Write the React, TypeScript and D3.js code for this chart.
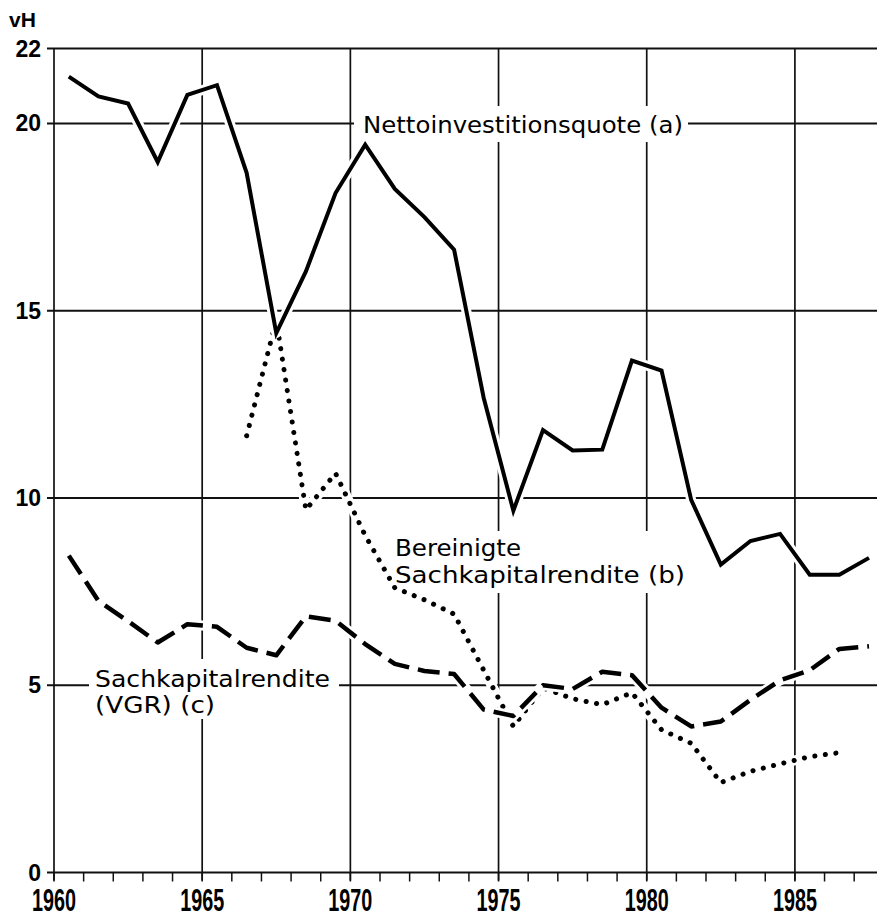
import React from 'react';
import * as d3 from 'd3';

// Year labels (points are plotted at mid-year)
const nettoYears = [1960, 1961, 1962, 1963, 1964, 1965, 1966, 1967, 1968, 1969, 1970, 1971, 1972, 1973, 1974, 1975, 1976, 1977, 1978, 1979, 1980, 1981, 1982, 1983, 1984, 1985, 1986, 1987];
const nettoValues = [21.25, 20.72, 20.53, 18.97, 20.76, 21.02, 18.68, 14.4, 16.05, 18.14, 19.43, 18.25, 17.5, 16.63, 12.67, 9.66, 11.81, 11.27, 11.29, 13.67, 13.4, 9.95, 8.22, 8.85, 9.04, 7.95, 7.95, 8.4];

const vgrYears = [1960, 1961, 1962, 1963, 1964, 1965, 1966, 1967, 1968, 1969, 1970, 1971, 1972, 1973, 1974, 1975, 1976, 1977, 1978, 1979, 1980, 1981, 1982, 1983, 1984, 1985, 1986, 1987];
const vgrValues = [8.46, 7.25, 6.71, 6.14, 6.63, 6.56, 6.0, 5.8, 6.84, 6.72, 6.1, 5.57, 5.38, 5.3, 4.35, 4.18, 5.0, 4.9, 5.36, 5.27, 4.4, 3.9, 4.03, 4.61, 5.13, 5.4, 5.97, 6.04];

const bereinigtYears = [1966, 1967, 1968, 1969, 1970, 1971, 1972, 1973, 1974, 1975, 1976, 1977, 1978, 1979, 1980, 1981, 1982, 1983, 1984, 1985, 1986];
const bereinigtValues = [11.66, 14.75, 9.68, 10.66, 9.0, 7.6, 7.28, 6.9, 5.4, 3.9, 4.93, 4.64, 4.48, 4.8, 3.81, 3.45, 2.4, 2.7, 2.9, 3.09, 3.2];

const yTicks = [0, 5, 10, 15, 20, 22];
const xMajorTicks = [1960, 1965, 1970, 1975, 1980, 1985];
const xMinorTicks = [1960, 1961, 1962, 1963, 1964, 1965, 1966, 1967, 1968, 1969, 1970, 1971, 1972, 1973, 1974, 1975, 1976, 1977, 1978, 1979, 1980, 1981, 1982, 1983, 1984, 1985, 1986, 1987];

const unitLabel = 'vH';
const labelNetto = 'Nettoinvestitionsquote (a)';
const labelBereinigt1 = 'Bereinigte';
const labelBereinigt2 = 'Sachkapitalrendite (b)';
const labelVgr1 = 'Sachkapitalrendite';
const labelVgr2 = '(VGR) (c)';

export default function App() {
  const W = 877;
  const H = 918;
  const x = d3.scaleLinear().domain([1960, 1987.77]).range([54, 877]);
  const y = d3.scaleLinear().domain([0, 22]).range([872.5, 48.5]);

  const mk = (yrs: number[], vals: number[]) =>
    d3.line<number>()
      .x((_, i) => x(yrs[i] + 0.5))
      .y((v) => y(v))(vals) as string;

  const nettoPath = mk(nettoYears, nettoValues);
  const vgrPath = mk(vgrYears, vgrValues);
  const berPath = mk(bereinigtYears, bereinigtValues);

  const annoFont = '"DejaVu Sans", sans-serif';
  const tickFont = '"Liberation Sans", Arial, sans-serif';

  return (
    <svg width={W} height={H} style={{ position: 'absolute', left: 0, top: 0, background: '#fff' }}>
      <rect x={0} y={0} width={W} height={H} fill="#fff" />
      {/* horizontal gridlines */}
      {yTicks.map((t) => (
        <line key={'h' + t} x1={47} x2={W} y1={y(t)} y2={y(t)} stroke="#111" strokeWidth={2} />
      ))}
      {/* vertical gridlines */}
      {xMajorTicks.map((t) => (
        <line key={'v' + t} x1={x(t)} x2={x(t)} y1={y(22)} y2={y(0) + 8} stroke="#111" strokeWidth={1.7} />
      ))}
      {/* minor ticks */}
      {xMinorTicks.map((t) => (
        <line key={'m' + t} x1={x(t)} x2={x(t)} y1={y(0)} y2={y(0) + 9} stroke="#111" strokeWidth={1.5} />
      ))}

      {/* label backgrounds */}
      <rect x={354} y={106} width={334} height={36} fill="#fff" />
      <rect x={390} y={531} width={300} height={62} fill="#fff" />
      <rect x={89} y={659} width={250} height={60} fill="#fff" />

      {/* data lines with white halos */}
      <path d={berPath} fill="none" stroke="#fff" strokeWidth={10} strokeLinejoin="round" />
      <path d={berPath} fill="none" stroke="#000" strokeWidth={5} strokeLinecap="round" strokeDasharray="0.1 10.5" />
      <path d={vgrPath} fill="none" stroke="#fff" strokeWidth={10} strokeLinejoin="round" />
      <path d={vgrPath} fill="none" stroke="#000" strokeWidth={4.5} strokeDasharray="22 9" strokeLinejoin="round" />
      <path d={nettoPath} fill="none" stroke="#fff" strokeWidth={10} strokeLinejoin="round" />
      <path d={nettoPath} fill="none" stroke="#000" strokeWidth={4} strokeLinejoin="miter" />

      {/* y tick labels */}
      {yTicks.map((t) => (
        <text key={'yl' + t} x={41} y={y(t) + 8} textAnchor="end" fontFamily={tickFont} fontWeight="bold" fontSize={23} fill="#000">
          {t}
        </text>
      ))}
      <text x={9} y={27} fontFamily={tickFont} fontWeight="bold" fontSize={21} fill="#000">{unitLabel}</text>

      {/* x tick labels */}
      {xMajorTicks.map((t) => (
        <text key={'xl' + t} x={x(t) - 22} y={911} fontFamily={tickFont} fontWeight="bold" fontSize={32} textLength={44} lengthAdjust="spacingAndGlyphs" fill="#000">
          {t}
        </text>
      ))}

      {/* annotations */}
      <text x={363} y={133} fontFamily={annoFont} fontSize={23} textLength={320} lengthAdjust="spacingAndGlyphs" fill="#000">{labelNetto}</text>
      <text x={395} y={556} fontFamily={annoFont} fontSize={23} textLength={126} lengthAdjust="spacingAndGlyphs" fill="#000">{labelBereinigt1}</text>
      <text x={395} y={583} fontFamily={annoFont} fontSize={23} textLength={290} lengthAdjust="spacingAndGlyphs" fill="#000">{labelBereinigt2}</text>
      <text x={95} y={687} fontFamily={annoFont} fontSize={23} textLength={235} lengthAdjust="spacingAndGlyphs" fill="#000">{labelVgr1}</text>
      <text x={95} y={713} fontFamily={annoFont} fontSize={23} textLength={120} lengthAdjust="spacingAndGlyphs" fill="#000">{labelVgr2}</text>
    </svg>
  );
}
